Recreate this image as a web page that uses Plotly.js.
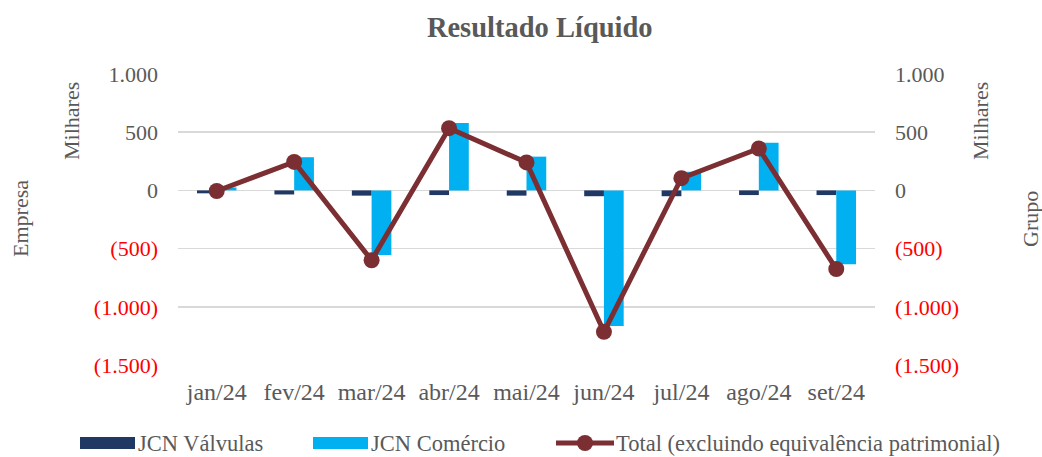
<!DOCTYPE html>
<html>
<head>
<meta charset="utf-8">
<script src="https://cdn.plot.ly/plotly-3.0.1.min.js"></script>
<style>html,body{margin:0;padding:0;background:#fff;}#chart{width:1042px;height:457px;}</style>
</head>
<body>
<div id="chart"></div>
<script>
const categories = ["jan/24","fev/24","mar/24","abr/24","mai/24","jun/24","jul/24","ago/24","set/24"];
const valvulas = [-25, -35, -45, -40, -45, -50, -50, -40, -40];
const comercio = [25, 285, -555, 580, 290, -1165, 160, 410, -635];
const total = [-5, 245, -600, 535, 240, -1215, 105, 360, -675];
const tickValues = [-1500, -1000, -500, 0, 500, 1000];
const tickLabels = ["(1.500)", "(1.000)", "(500)", "0", "500", "1.000"];
const seriesNames = ["JCN Válvulas", "JCN Comércio", "Total (excluindo equivalência patrimonial)"];

const GRAY = "#595959";
const FONT = "Liberation Serif, serif";
const NAVY = "#203864", CYAN = "#00B0F0", MAROON = "#7B2F32";
const coloredTicks = tickLabels.map((t, i) => tickValues[i] < 0 ? '<span style="color:#FF0000">' + t + '</span>' : t);
const yRange = [tickValues[0], tickValues[tickValues.length - 1]];
const xRange = [-0.5, categories.length - 0.5];
const boundaryTicks = categories.map((_, i) => i - 0.5).concat([categories.length - 0.5]);

// plot-area geometry (pixels) used to place the legend & side titles
const W = 1042, H = 457, ML = 178, MR = 167, MT = 74, MB = 92;
const PW = W - ML - MR, PH = H - MT - MB;
const px = x => (x - ML) / PW;
const py = y => (H - MB - y) / PH;

const traces = [
  {type: "bar", name: seriesNames[0], x: categories, y: valvulas, marker: {color: NAVY}, xaxis: "x", yaxis: "y"},
  {type: "bar", name: seriesNames[1], x: categories, y: comercio, marker: {color: CYAN}, xaxis: "x", yaxis: "y"},
  {type: "scatter", mode: "lines+markers", name: seriesNames[2], x: categories, y: total,
   line: {color: MAROON, width: 5}, marker: {color: MAROON, size: 16}, xaxis: "x", yaxis: "y2"}
];

const yBase = {
  range: yRange, tickmode: "array", tickvals: tickValues, ticktext: coloredTicks,
  tickfont: {family: FONT, size: 22, color: GRAY}, showline: false, zeroline: false, ticks: "",
  fixedrange: true
};

// legend (drawn as layout decorations so the swatches match the reference)
const LEG_Y = 443;
const LEG_FONT = 22.5;
const legendKeys = [
  {kind: "bar", color: NAVY, x0: 80, x1: 135, tx: 136},
  {kind: "bar", color: CYAN, x0: 313, x1: 368, tx: 369},
  {kind: "line", color: MAROON, x0: 556, x1: 614, tx: 614}
];
const legendShapes = [];
const legendAnns = [];
legendKeys.forEach((k, i) => {
  if (k.kind === "bar") {
    legendShapes.push({type: "rect", xref: "paper", yref: "paper", x0: px(k.x0), x1: px(k.x1), y0: py(LEG_Y + 6), y1: py(LEG_Y - 6),
                       fillcolor: k.color, line: {width: 0}, layer: "above"});
  } else {
    legendShapes.push({type: "line", xref: "paper", yref: "paper", x0: px(k.x0), x1: px(k.x1), y0: py(LEG_Y), y1: py(LEG_Y),
                       line: {color: k.color, width: 5}, layer: "above"});
    const c = (k.x0 + k.x1) / 2;
    legendShapes.push({type: "circle", xref: "paper", yref: "paper", x0: px(c - 8), x1: px(c + 8), y0: py(LEG_Y + 8), y1: py(LEG_Y - 8),
                       fillcolor: k.color, line: {width: 0}, layer: "above"});
  }
  legendAnns.push({text: seriesNames[i], xref: "paper", yref: "paper", x: px(k.tx), y: py(LEG_Y), xanchor: "left", yanchor: "middle",
                   showarrow: false, font: {family: FONT, size: LEG_FONT, color: GRAY}});
});

const sideTitle = (text, x, y) => ({text: text, xref: "paper", yref: "paper", x: px(x), y: py(y), textangle: -90, showarrow: false,
  xanchor: "center", yanchor: "middle", font: {family: FONT, size: 22, color: GRAY}});

const layout = {
  width: W, height: H,
  margin: {l: ML, r: MR, t: MT, b: MB, autoexpand: false},
  paper_bgcolor: "#fff", plot_bgcolor: "#fff",
  font: {family: FONT, color: GRAY},
  title: {text: "<b>Resultado Líquido</b>", font: {family: FONT, size: 28.5, color: GRAY}, x: 0.518, xanchor: "center", y: 0.94, yanchor: "middle"},
  barmode: "group", bargap: 0.49, bargroupgap: 0,
  showlegend: false,
  xaxis: {type: "category", range: xRange, showgrid: false, showline: false, zeroline: false, ticks: "",
          tickfont: {family: FONT, size: 24, color: GRAY}, ticklabelstandoff: 10, fixedrange: true},
  xaxis2: {overlaying: "x", anchor: "free", position: (0 - yRange[0]) / (yRange[1] - yRange[0]),
           range: xRange, tickmode: "array", tickvals: boundaryTicks,
           ticks: "outside", ticklen: 6, tickcolor: "#D9D9D9", tickwidth: 1.5, showticklabels: false,
           showline: true, linecolor: "#D9D9D9", linewidth: 1.5, showgrid: false, zeroline: false, fixedrange: true},
  yaxis: Object.assign({}, yBase, {showgrid: true, gridcolor: "#D9D9D9", gridwidth: 1.5, ticklabelstandoff: 19}),
  yaxis2: Object.assign({}, yBase, {overlaying: "y", side: "right", showgrid: false, ticklabelstandoff: 19}),
  shapes: legendShapes,
  annotations: [
    sideTitle("Empresa", 20, 219),
    sideTitle("Milhares", 71, 121),
    sideTitle("Milhares", 980, 121),
    sideTitle("Grupo", 1030, 219)
  ].concat(legendAnns)
};

Plotly.newPlot("chart", traces, layout, {displayModeBar: false, staticPlot: true});
</script>
</body>
</html>
